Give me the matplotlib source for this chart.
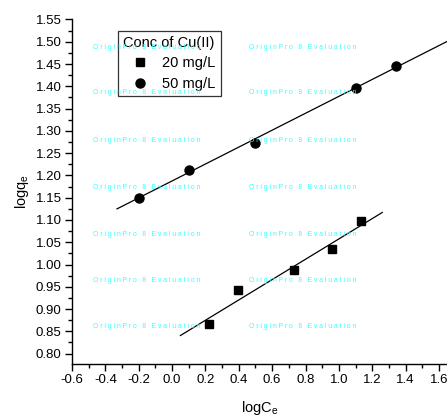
import numpy as np
import matplotlib
matplotlib.use("Agg")
import matplotlib.pyplot as plt
from matplotlib.ticker import MultipleLocator

plt.rcParams['font.family'] = ['Liberation Sans', 'DejaVu Sans']

# === Données ===
logce_20 = [0.22, 0.395, 0.731, 0.959, 1.134]
logqe_20 = [0.866, 0.943, 0.9885, 1.0356, 1.0978]
logce_50 = [-0.20, 0.10, 0.497, 1.10, 1.342]
logqe_50 = [1.150, 1.212, 1.273, 1.397, 1.445]
labels = ['20 mg/L', '50 mg/L']

fig = plt.figure(figsize=(4.47, 4.18), dpi=100)
ax = fig.add_axes([0.161, 0.129, 0.839, 0.8244])

# droites de régression
p20 = np.polyfit(logce_20, logqe_20, 1)
p50 = np.polyfit(logce_50, logqe_50, 1)
x20 = np.array([0.05, 1.26])
x50 = np.array([-0.33, 1.75])
ax.plot(x20, np.polyval(p20, x20), color='black', lw=0.9)
ax.plot(x50, np.polyval(p50, x50), color='black', lw=0.9)

ax.plot(logce_20, logqe_20, 's', color='black', ms=5.5, label=labels[0])
ax.plot(logce_50, logqe_50, 'o', color='black', ms=6.5, label=labels[1])

ax.set_xlim(-0.6, 1.648)
ax.set_ylim(0.7765, 1.55)
ax.xaxis.set_minor_locator(MultipleLocator(0.1))
ax.yaxis.set_minor_locator(MultipleLocator(0.025))
ax.xaxis.set_major_formatter(plt.FuncFormatter(lambda v, p: f"{v:.1f}"))
ax.yaxis.set_major_formatter(plt.FuncFormatter(lambda v, p: f"{v:.2f}"))
ax.set_xticks([v for v in np.arange(-0.6, 1.61, 0.2)])
ax.set_yticks([v for v in np.arange(0.80, 1.551, 0.05)])

for s in ['top', 'right']:
    ax.spines[s].set_visible(False)
for s in ['left', 'bottom']:
    ax.spines[s].set_linewidth(1.0)
ax.tick_params(which='major', direction='out', length=5, width=1, labelsize=9.5, pad=2.5)
ax.tick_params(which='minor', direction='out', length=3, width=1)

ax.set_xlabel('logC$_\\mathregular{e}$', fontsize=10.5, labelpad=9)
ax.set_ylabel('logq$_\\mathregular{e}$', fontsize=10.5, labelpad=3)

leg = ax.legend(title='Conc of Cu(II)', loc='upper left', bbox_to_anchor=(0.122, 0.968),
                fontsize=10.5, title_fontsize=10.5, frameon=True, fancybox=False,
                edgecolor='black', borderpad=0.35, handletextpad=0.4,
                labelspacing=0.45, handlelength=2.3, borderaxespad=0)
leg.get_frame().set_linewidth(0.9)
leg.get_frame().set_facecolor('none')

# filigrane OriginPro
wm = ' '.join('OriginPro 8 Evaluation')
for ypx in [47.3, 93, 140, 187, 234.7, 280.7, 327]:
    for xpx in [93, 249]:
        fig.text(xpx / 447, 1 - ypx / 418, wm, fontsize=4.9, color='#33ffff',
                 ha='left', va='center', zorder=0)

fig.savefig('out.png', dpi=100)
